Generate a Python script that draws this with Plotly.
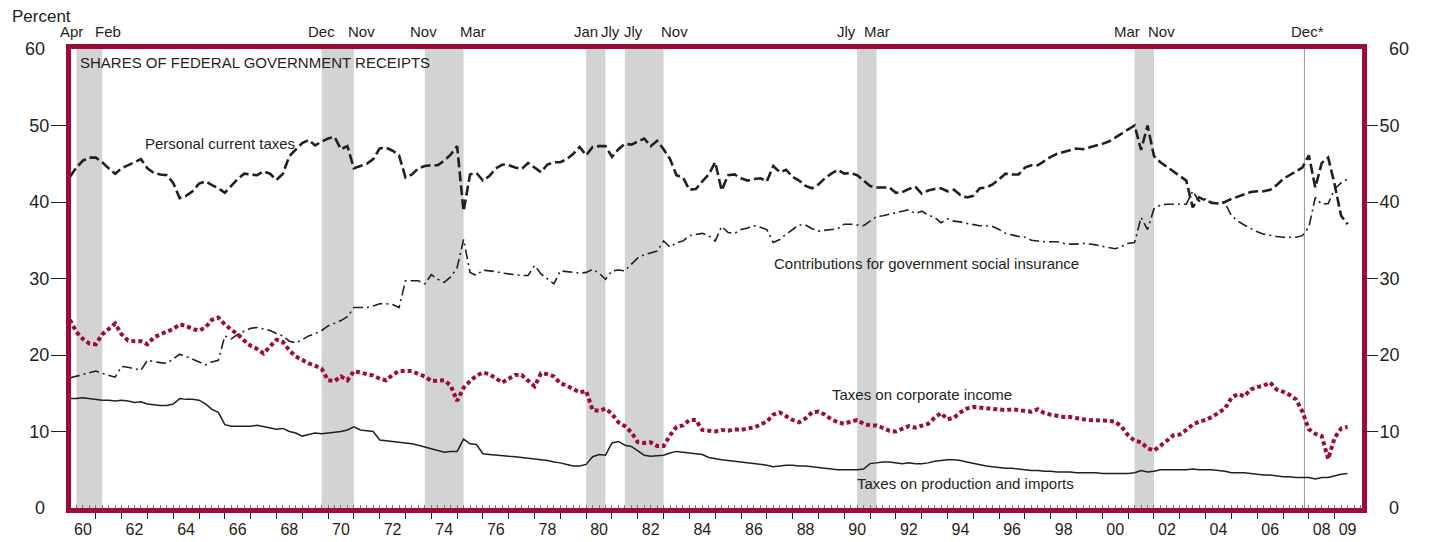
import plotly.graph_objects as go

# quarterly observations, 1960Q1 .. 2009Q3
years = [1960 + q / 4 for q in range(199)]

personal = [
    43.3, 44.5, 45.4, 45.8,  45.8, 45.2, 44.4, 43.7,  44.4, 44.8, 45.2, 45.6,
    44.4, 43.8, 43.6, 43.5,  42.5, 40.5, 40.8, 41.4,  42.4, 42.7, 42.2, 41.8,
    41.2, 42.1, 43.0, 43.7,  43.6, 43.5, 44.0, 43.7,  42.9, 43.7, 46.0, 46.9,
    47.7, 48.1, 47.4, 47.9,  48.3, 48.5, 46.9, 47.3,  44.4, 44.7, 45.0, 45.6,
    47.0, 47.1, 46.7, 46.1,  43.2, 43.6, 44.4, 44.7,  44.8, 44.8, 45.4, 46.2,
    47.3, 38.8, 43.6, 43.8,  42.8, 43.4, 44.4, 44.9,  44.8, 44.5, 44.3, 45.1,
    44.5, 43.9, 44.9, 45.2,  45.2, 45.6, 46.3, 47.2,  46.1, 47.2, 47.3, 47.3,
    45.9, 46.9, 47.6, 47.5,  47.9, 48.3, 47.3, 48.0,  46.9, 45.6, 43.5, 43.2,
    41.6, 41.7, 42.7, 43.6,  45.2, 41.5, 43.5, 43.6,  43.1, 42.8, 43.0, 43.1,
    42.7, 44.7, 43.9, 44.2,  43.3, 42.8, 42.1, 41.8,  42.3, 43.1, 43.7, 44.2,
    43.7, 43.8, 43.5, 42.8,  42.1, 41.9, 41.9, 41.9,  41.2, 41.3, 41.7, 42.0,
    41.1, 41.5, 41.7, 41.8,  41.4, 41.6, 40.9, 40.6,  40.8, 41.8, 41.9, 42.3,
    43.0, 43.7, 43.6, 43.6,  44.5, 44.8, 44.8, 45.4,  45.9, 46.3, 46.5, 46.8,
    47.0, 46.9, 47.1, 47.3,  47.6, 47.9, 48.4, 49.0,  49.5, 50.0, 46.8, 50.0,
    46.0, 45.2, 44.6, 44.0,  43.5, 42.8, 39.3, 40.6,  40.2, 39.9, 39.8, 40.0,
    40.4, 40.7, 41.0, 41.3,  41.4, 41.4, 41.6, 42.2,  43.0, 43.5, 44.0, 44.5,
    46.1, 41.9, 45.1, 45.8,  42.3, 38.2, 37.1,
]

contributions = [
    17.0, 17.2, 17.4, 17.6,  17.9, 17.6, 17.3, 17.1,  18.5, 18.4, 18.2, 18.0,
    19.3, 19.1, 19.0, 18.9,  19.5, 20.1, 19.8, 19.5,  19.1, 18.7, 19.1, 19.3,
    22.5, 22.1, 22.7, 23.1,  23.5, 23.6, 23.4, 23.2,  22.8, 22.5, 21.8, 21.6,
    22.0, 22.5, 22.8, 23.2,  23.8, 24.1, 24.5, 25.0,  26.2, 26.2, 26.2, 26.4,
    26.7, 26.7, 26.6, 26.2,  29.7, 29.7, 29.7, 29.3,  30.5, 29.9, 29.5, 30.2,
    31.4, 35.1, 30.8, 30.4,  31.1, 31.0, 30.9, 30.7,  30.6, 30.5, 30.4, 30.4,
    31.7, 30.6, 29.9, 29.3,  31.0, 30.9, 30.8, 30.7,  30.8, 31.2, 30.7, 29.9,
    31.0, 31.1, 31.0, 31.8,  32.7, 33.1, 33.4, 33.6,  34.9, 34.1, 34.7, 34.9,
    35.6, 35.8, 35.9, 35.6,  34.9, 36.8, 36.0, 35.9,  36.4, 36.6, 36.9, 36.7,
    36.4, 34.7, 35.1, 35.8,  36.4, 37.0, 37.0, 36.5,  36.2, 36.3, 36.4, 36.5,
    37.1, 37.1, 37.0, 36.9,  37.5, 38.1, 38.2, 38.4,  38.6, 38.8, 39.0, 38.5,
    38.8, 38.3, 38.0, 37.3,  37.8, 37.5, 37.4, 37.2,  37.1, 36.9, 36.9, 36.8,
    36.4, 35.9, 35.7, 35.5,  35.4, 35.0, 34.9, 34.8,  34.8, 34.8, 34.6, 34.5,
    34.5, 34.6, 34.5, 34.4,  34.2, 34.0, 33.9, 34.2,  34.6, 34.7, 38.0, 36.4,
    39.1, 39.6, 39.7, 39.7,  39.7, 39.7, 41.4, 40.1,  40.4, 39.8, 39.8, 39.9,
    38.2, 37.5, 37.0, 36.5,  36.1, 35.8, 35.6, 35.5,  35.4, 35.4, 35.4, 35.6,
    36.7, 40.6, 39.7, 39.8,  41.7, 42.5, 43.0,
]

corporate = [
    24.6, 23.0, 22.1, 21.5,  21.4, 22.7, 23.4, 24.1,  22.7, 21.9, 21.8, 21.8,
    21.4, 22.3, 22.7, 23.0,  23.4, 24.0, 23.8, 23.4,  23.2, 23.6, 24.6, 24.9,
    24.0, 23.3, 22.7, 21.9,  21.2, 20.8, 20.2, 21.1,  22.0, 21.7, 20.6, 19.8,
    19.3, 18.9, 18.6, 18.2,  16.7, 16.6, 17.2, 16.7,  17.9, 17.7, 17.6, 17.3,
    16.9, 16.7, 17.4, 17.9,  17.9, 17.9, 17.5, 17.2,  16.6, 16.7, 16.7, 16.0,
    14.0, 15.7, 16.6, 17.3,  17.7, 17.5, 16.9, 16.4,  16.9, 17.4, 17.4, 16.7,
    15.9, 17.6, 17.5, 17.2,  16.3, 16.0, 15.6, 15.1,  15.3, 12.8, 12.7, 13.0,
    12.3, 11.2, 10.7, 9.9,   8.6, 8.5, 8.6, 8.1,      8.1, 9.5, 10.6, 10.8,
    11.5, 11.5, 10.2, 10.1,  10.0, 10.2, 10.1, 10.3,  10.2, 10.4, 10.5, 10.9,
    11.3, 12.2, 12.5, 12.0,  11.5, 11.2, 11.7, 12.5,  12.6, 12.2, 11.6, 11.2,
    11.0, 11.3, 11.5, 11.0,  10.8, 10.8, 10.4, 10.1,  10.0, 10.4, 10.7, 10.5,
    10.8, 11.0, 11.8, 12.4,  11.6, 11.8, 12.5, 13.0,  13.2, 13.1, 13.0, 12.9,
    12.8, 12.8, 12.9, 12.8,  12.6, 12.6, 12.9, 12.4,  12.2, 12.0, 11.9, 11.9,
    11.7, 11.6, 11.5, 11.5,  11.4, 11.4, 11.3, 10.6,  9.5, 8.8, 8.6, 7.8,
    7.5, 8.1, 8.8, 9.5,      9.6, 10.2, 10.9, 11.3,  11.5, 11.9, 12.4, 13.0,
    14.4, 14.9, 14.6, 15.5,  15.8, 16.0, 16.4, 15.5,  15.2, 14.8, 14.2, 12.6,
    10.3, 9.7, 9.4, 6.4,     9.2, 10.4, 10.6,
]

production = [
    14.3, 14.3, 14.4, 14.3,  14.2, 14.1, 14.1, 14.0,  14.1, 14.0, 13.8, 13.9,
    13.6, 13.5, 13.4, 13.4,  13.6, 14.3, 14.2, 14.2,  14.1, 13.6, 12.9, 12.5,
    10.9, 10.7, 10.7, 10.7,  10.7, 10.8, 10.6, 10.4,  10.3, 10.4, 10.0, 9.8,
    9.4, 9.6, 9.8, 9.7,      9.8, 9.9, 10.0, 10.2,    10.6, 10.2, 10.1, 10.0,
    8.9, 8.8, 8.7, 8.6,      8.5, 8.4, 8.2, 8.0,      7.8, 7.5, 7.3, 7.4,
    7.4, 9.0, 8.4, 8.3,      7.1, 7.0, 6.9, 6.8,      6.75, 6.7, 6.6, 6.5,
    6.4, 6.3, 6.2, 6.0,      5.9, 5.7, 5.5, 5.5,      5.7, 6.7, 7.0, 6.9,
    8.5, 8.7, 8.2, 8.05,     7.5, 6.9, 6.75, 6.8,     6.9, 7.2, 7.4, 7.3,
    7.2, 7.1, 7.0, 6.6,      6.4, 6.3, 6.2, 6.1,      6.0, 5.9, 5.8, 5.7,
    5.6, 5.4, 5.5, 5.6,      5.6, 5.5, 5.5, 5.4,      5.3, 5.2, 5.1, 5.0,
    5.0, 5.0, 5.0, 5.1,      5.8, 5.9, 6.0, 6.0,      5.9, 5.8, 5.9, 5.8,
    5.8, 5.9, 6.1, 6.2,      6.3, 6.3, 6.2, 6.0,      5.8, 5.6, 5.5, 5.4,
    5.3, 5.2, 5.2, 5.1,      5.0, 4.9, 4.9, 4.8,      4.8, 4.7, 4.7, 4.7,
    4.6, 4.6, 4.6, 4.6,      4.5, 4.5, 4.5, 4.5,      4.5, 4.6, 4.9, 4.7,
    4.8, 5.0, 5.0, 5.0,      5.0, 5.0, 5.1, 5.0,      5.0, 5.0, 4.9, 4.8,
    4.6, 4.6, 4.6, 4.5,      4.4, 4.3, 4.3, 4.2,      4.1, 4.1, 4.0, 4.0,
    4.0, 3.8, 4.0, 4.0,      4.2, 4.4, 4.5,
]

# recessions (shaded), and the December 2007 peak (line only)
recession_start = [1960.25, 1969.75, 1973.75, 1980.0, 1981.5, 1990.5, 2001.25]
recession_end = [1961.25, 1971.0, 1975.25, 1980.75, 1983.0, 1991.25, 2002.0]
peak_2007 = 2007.83

month_labels = ["Apr", "Feb", "Dec", "Nov", "Nov", "Mar", "Jan", "Jly",
                "Jly", "Nov", "Jly", "Mar", "Mar", "Nov", "Dec*"]
month_x = [1960.07, 1961.48, 1969.76, 1971.31, 1973.69, 1975.60, 1979.99,
           1980.93, 1981.84, 1983.41, 1990.07, 1991.27, 2000.96, 2002.31, 2007.95]

year_ticks = [y + 0.5 for y in range(1960, 2010, 2)] + [2009.5]
year_text = [f"{y % 100:02d}" for y in range(1960, 2010, 2)] + ["09"]
y_ticks = [10, 20, 30, 40, 50]
y_ends = [0, 60]

RED = "#a00a36"
INK = "#231f20"
LAB = "Liberation Sans, Arial, Helvetica"
XR = [1960.04, 2010.06]
YR = [0, 60]

fig = go.Figure()

fig.add_trace(go.Scatter(x=years, y=production, mode="lines", yaxis="y2",
                         line=dict(color=INK, width=1.5), hoverinfo="skip"))
fig.add_trace(go.Scatter(x=years, y=corporate, mode="lines",
                         line=dict(color=RED, width=4, dash="4px,3px"),
                         hoverinfo="skip"))
fig.add_trace(go.Scatter(x=years, y=contributions, mode="lines",
                         line=dict(color=INK, width=1.6, dash="10px,4px,2px,4px"),
                         hoverinfo="skip"))
fig.add_trace(go.Scatter(x=years, y=personal, mode="lines", xaxis="x2",
                         line=dict(color=INK, width=2.6, dash="10px,4px"),
                         hoverinfo="skip"))

for x0, x1 in zip(recession_start, recession_end):
    fig.add_vrect(x0=x0, x1=x1, fillcolor="#d1d3d4", opacity=1,
                  line_width=0, layer="below")
fig.add_vline(x=peak_2007, line=dict(color="#9a9a9a", width=1), layer="below")

for lab, mx in zip(month_labels, month_x):
    fig.add_annotation(x=mx, y=1.0392, xref="x", yref="paper", text=lab,
                       showarrow=False, xanchor="center", yanchor="middle",
                       font=dict(family=LAB, size=15, color=INK))

labels = [
    ("SHARES OF FEDERAL GOVERNMENT RECEIPTS", 1960.31, 58.2),
    ("Personal current taxes", 1962.84, 47.6),
    ("Contributions for government social insurance", 1987.20, 32.0),
    ("Taxes on corporate income", 1989.45, 14.8),
    ("Taxes on production and imports", 1990.42, 3.2),
]
for txt, lx, ly in labels:
    fig.add_annotation(x=lx, y=ly, text=txt, showarrow=False, xanchor="left",
                       yanchor="middle", font=dict(family=LAB, size=15, color=INK))

fig.add_annotation(x=-0.0473, y=1.0708, xref="paper", yref="paper",
                   text="Percent", showarrow=False, xanchor="left",
                   yanchor="middle", font=dict(family=LAB, size=17, color=INK))

# 0 and 60 carry labels but no tick marks
for v in y_ends:
    fig.add_annotation(x=-0.0186, y=v, xref="paper", yref="y", text=str(v),
                       showarrow=False, xanchor="right", yanchor="middle",
                       font=dict(family=LAB, size=18, color=INK))
    fig.add_annotation(x=1.0194, y=v, xref="paper", yref="y", text=str(v),
                       showarrow=False, xanchor="left", yanchor="middle",
                       font=dict(family=LAB, size=18, color=INK))

yax = dict(range=YR, showgrid=False, zeroline=False, tickmode="array",
           tickvals=y_ticks, ticks="outside", ticklen=15, tickcolor=INK,
           tickwidth=1.2, tickfont=dict(family=LAB, size=18, color=INK),
           ticklabelstandoff=-2, automargin=False, fixedrange=True)

# the page body has an 8px margin, so the figure is offset by (8, 8)
fig.update_layout(
    width=1423, height=534, autosize=False,
    margin=dict(l=63, r=69, t=41, b=34, pad=0),
    paper_bgcolor="white", plot_bgcolor="white",
    showlegend=False,
    xaxis=dict(range=XR, showgrid=False, zeroline=False, showline=True,
               linecolor=RED, linewidth=5, mirror=True, automargin=False,
               tickmode="array", tickvals=year_ticks, ticktext=year_text,
               ticks="outside", ticklen=6, tickcolor="rgba(0,0,0,0)",
               ticklabelstandoff=-3,
               minor=dict(tickmode="array", tickvals=list(range(1961, 2010)),
                          ticks="outside", ticklen=6, tickcolor=INK, tickwidth=1.2),
               tickfont=dict(family=LAB, size=16, color=INK)),
    xaxis2=dict(range=XR, overlaying="x", side="bottom", anchor="y",
                showgrid=False, zeroline=False, showticklabels=False,
                automargin=False,
                tickmode="array", tickvals=[1960 + q / 4 for q in range(201)],
                ticks="inside", ticklen=3, tickcolor="#777", tickwidth=1),
    yaxis=dict(yax, side="left", showline=True, linecolor=RED, linewidth=5,
               mirror=True),
    yaxis2=dict(yax, side="right", overlaying="y", showline=False),
)

fig.write_html("out.html")
